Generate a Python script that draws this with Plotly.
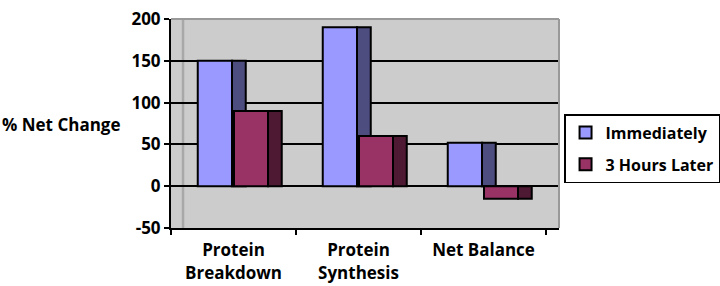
import plotly.graph_objects as go

categories = ["Protein Breakdown", "Protein Synthesis", "Net Balance"]
tick_labels = ["<b>Protein</b><br><b>Breakdown</b>", "<b>Protein</b><br><b>Synthesis</b>", "<b>Net Balance</b>"]
immediately = [150, 190, 52]
three_hours_later = [90, 60, -15]
y_ticks = [-50, 0, 50, 100, 150, 200]
y_tick_labels = ["<b>%d</b>" % v for v in y_ticks]

FONT = "Open Sans"
fig = go.Figure()

def add_bar(vals, name, color, offset, width, show):
    fig.add_trace(go.Bar(
        x=categories, y=vals, name="<b>%s</b>" % name, offset=offset, width=width,
        marker=dict(color=color, line=dict(color="black", width=2)),
        showlegend=show, legendgroup=name,
    ))

add_bar(immediately, "Immediately", "#9999FF", -0.286, 0.275, True)
add_bar(immediately, "Immediately", "#4D4D80", -0.012, 0.11, False)
add_bar(three_hours_later, "3 Hours Later", "#993366", 0.004, 0.272, True)
add_bar(three_hours_later, "3 Hours Later", "#4D1933", 0.276, 0.11, False)

fig.update_layout(
    width=720, height=286,
    margin=dict(l=171, r=161, t=19, b=58, autoexpand=False),
    paper_bgcolor="white", plot_bgcolor="#CCCCCC",
    barmode="overlay",
    font=dict(family=FONT, size=16, color="black"),
    xaxis=dict(
        type="category", range=[-0.5, 2.604], automargin=False,
        tickmode="array", tickvals=categories, ticktext=tick_labels,
        tickson="boundaries", ticks="outside", ticklen=5, tickwidth=2,
        tickcolor="black", showline=True, linecolor="black", linewidth=2,
        showgrid=False, tickfont=dict(family=FONT, size=17),
        ticklabelstandoff=6,
    ),
    yaxis=dict(
        range=[-50, 200], tickmode="array", tickvals=y_ticks, ticktext=y_tick_labels,
        automargin=False,
        ticks="outside", ticklen=5, tickwidth=2, tickcolor="black",
        showline=True, linecolor="black", linewidth=2,
        gridcolor="black", gridwidth=1.5, zeroline=False,
        tickfont=dict(family=FONT, size=17),
    ),
    legend=dict(
        x=1.013, y=0.545, xanchor="left", yanchor="top",
        bordercolor="black", borderwidth=1.5, bgcolor="white",
        font=dict(family=FONT, size=16),
        traceorder="grouped", tracegroupgap=8,
    ),
    annotations=[dict(
        text="<b>% Net Change</b>", xref="paper", yref="paper",
        x=-0.281, y=0.4976, xanchor="center", yanchor="middle",
        showarrow=False, font=dict(family=FONT, size=17),
    )],
    shapes=[
        dict(type="line", xref="x domain", yref="y domain", x0=0.031, x1=0.031,
             y0=0, y1=1, line=dict(color="#A8A8A8", width=2.5), layer="below"),
        dict(type="line", xref="x domain", yref="y domain", x0=0, x1=1,
             y0=1, y1=1, line=dict(color="#999999", width=2), layer="above"),
        dict(type="line", xref="x domain", yref="y domain", x0=1, x1=1,
             y0=0, y1=1, line=dict(color="#999999", width=2), layer="above"),
    ],
)

fig.write_html("out.html", config={"displayModeBar": False},
               post_script="document.body.style.margin='0';")
